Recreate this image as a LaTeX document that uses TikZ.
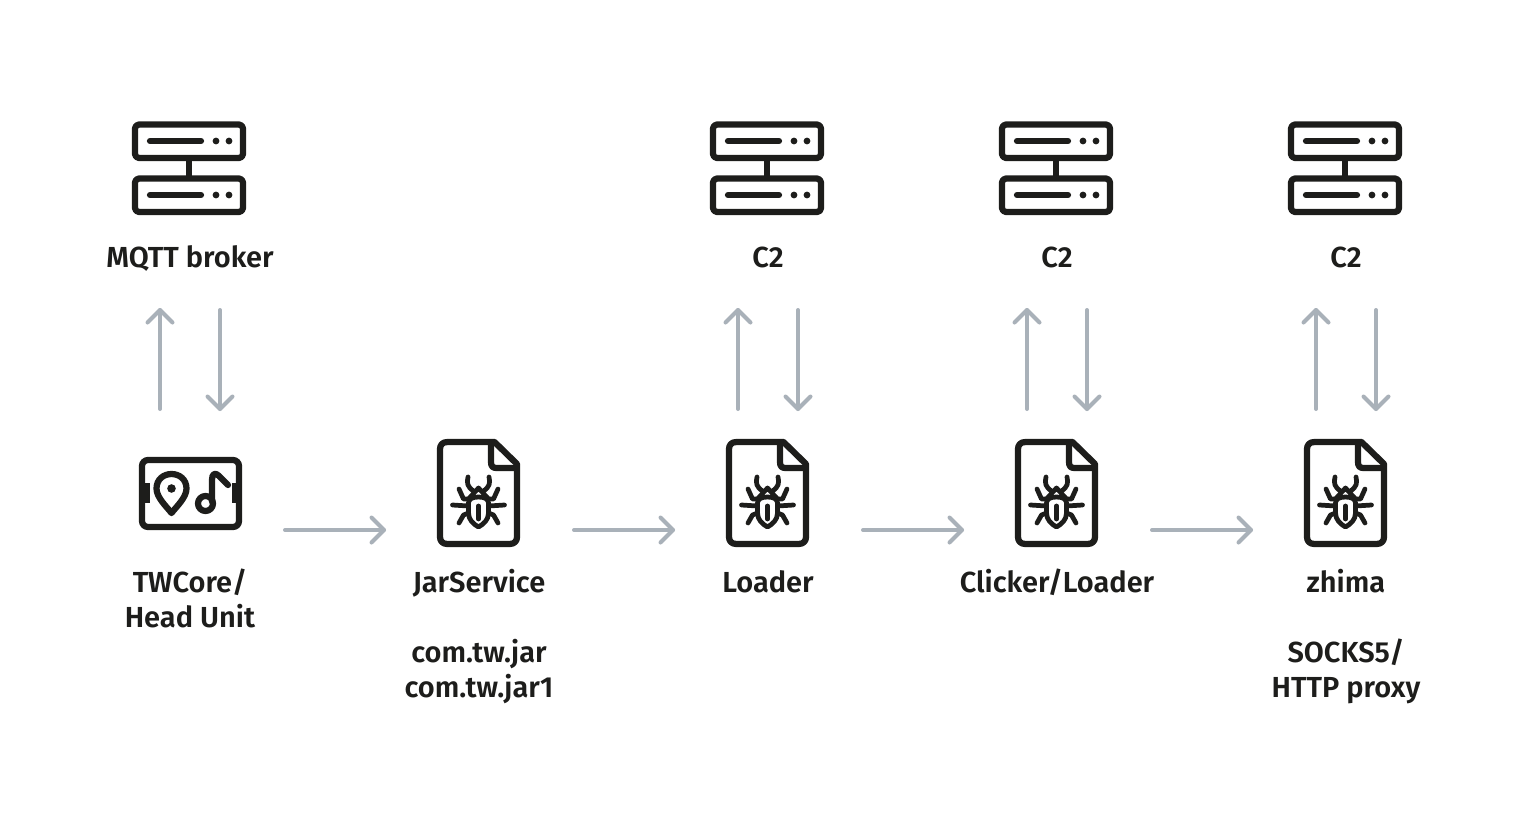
\documentclass[tikz,border=0pt]{standalone}
\usepackage{fontspec}
\setmainfont{Fira Sans}[UprightFont=* SemiBold]
\usetikzlibrary{calc}
\usetikzlibrary{positioning}

\definecolor{icondark}{HTML}{1D1D1B}
\definecolor{arrowgray}{HTML}{A9B1B9}

\tikzset{
    iconline/.style={draw=icondark, line width=0.125cm, line join=round},
    bugline/.style={draw=icondark, line width=0.095cm, line cap=round, line join=round},
    flowarrow/.style={draw=arrowgray, line width=0.08cm, line cap=round, line join=round},
    caption/.style={font=\fontsize{16.5}{19.9}\selectfont, text=icondark, align=center, inner sep=0pt,
        text height=14pt, text depth=2.6pt},
    pics/servericon/.style={code={
        \draw [iconline, rounded corners=0.08cm] (-54,-43.5) rectangle (54,-10);
        \draw [iconline, rounded corners=0.08cm] (-54,10.5) rectangle (54,44);
        \draw [iconline] (0,-10) -- (0,10.5);
        \foreach \yrow in {-27,27} {
            \draw [iconline, line cap=round] (-39,\yrow) -- (12,\yrow);
            \fill [icondark] (27,\yrow) circle [radius=3.4];
            \fill [icondark] (40,\yrow) circle [radius=3.4];
        }
    }},
    pics/fileicon/.style={code={
        \draw [iconline] (16,-51) -- (-31,-51) .. controls (-36,-51) and (-38.5,-48) .. (-38.5,-44)
            -- (-38.5,44) .. controls (-38.5,48) and (-36,51) .. (-31,51)
            -- (31,51) .. controls (36,51) and (38.5,48) .. (38.5,44)
            -- (38.5,-29) -- cycle;
        \draw [iconline] (12.5,-49) -- (12.5,-31) .. controls (12.5,-27) and (14,-25) .. (18,-25) -- (37,-25);
        % bug
        \draw [bugline] (0,4) .. controls (-6,4) and (-10,6) .. (-10,10)
            -- (-10,20) .. controls (-10,27) and (-5,31) .. (0,34)
            .. controls (5,31) and (10,27) .. (10,20)
            -- (10,10) .. controls (10,6) and (6,4) .. (0,4) -- cycle;
        \draw [bugline] (-10,6) -- (0,-5) -- (10,6);
        \draw [bugline] (0,13) -- (0,26);
        \draw [bugline] (-5,-2) .. controls (-11,-6) and (-12,-10) .. (-10.5,-16);
        \draw [bugline] (5,-2) .. controls (11,-6) and (12,-10) .. (10.5,-16);
        \draw [bugline] (-10,6) -- (-15,6) -- (-19.5,-4);
        \draw [bugline] (10,6) -- (15,6) -- (19.5,-4);
        \draw [bugline] (-10,13) -- (-26,12);
        \draw [bugline] (10,13) -- (26,12);
        \draw [bugline] (-10,20) -- (-15,22) -- (-19.5,30);
        \draw [bugline] (10,20) -- (15,22) -- (19.5,30);
    }},
    pics/headuniticon/.style={code={
        \draw [iconline, rounded corners=0.12cm] (-48.5,-33.5) rectangle (48.5,33.5);
        \fill [icondark] (-51.5,-10.5) rectangle (-41,9.5);
        \fill [icondark] (41.5,-10.5) rectangle (51.5,9.5);
        \draw [iconline] (-19,19.5) .. controls (-24,13) and (-34,4) .. (-34,-5)
            .. controls (-34,-14) and (-27,-19.5) .. (-19,-19.5)
            .. controls (-11,-19.5) and (-4,-14) .. (-4,-5)
            .. controls (-4,4) and (-14,13) .. (-19,19.5) -- cycle;
        \fill [icondark] (-19,-5) circle [radius=4.3];
        \draw [iconline] (15,10) circle [radius=7.5];
        \draw [iconline, line cap=round] (21.5,8) -- (21.5,-14) .. controls (21.5,-20) and (25,-21) .. (28,-18) -- (37.5,-8.5);
    }}
}

\begin{document}
\begin{tikzpicture}[x=0.02cm, y=-0.02cm]
    \useasboundingbox (0,0) rectangle (1536,829);

    % Constants
    \pgfmathsetmacro{\flowrow}{530}

    % Top row
    \pic at (189,168) {servericon};
    \pic at (767,168) {servericon};
    \pic at (1056,168) {servericon};
    \pic at (1345,168) {servericon};

    \node [caption] (brokertxt) at (190,257) {MQTT broker};
    \node [caption] (loadertop) at (768,257) {C2};
    \node [caption] (clickertop) at (1057,257) {C2};
    \node [caption] (zhimatop) at (1346,257) {C2};

    % Bottom row
    \pic at (190.5,493.5) {headuniticon};
    \pic at (478.5,493) {fileicon};
    \pic at (767.5,493) {fileicon};
    \pic at (1056.5,493) {fileicon};
    \pic at (1345.5,493) {fileicon};

    \node [caption] (headtxt) at (190,617) {TWCore/\\Head Unit};
    \node [caption] (jartxt) at (479,582) {JarService};
    \node [caption] (jarfiles) at (479,687) {com.tw.jar\\com.tw.jar1};
    \node [caption] (loadertxt) at (768,582) {Loader};
    \node [caption] (clickertxt) at (1057,582) {Clicker/Loader};
    \node [caption] (zhimatxt) at (1346,582) {zhima};
    \node [caption] (proxytxt) at (1346,687) {SOCKS5/\\HTTP proxy};

    % Vertical arrows
    \foreach \xpos/\name in {160/broker,738/loader,1027/clicker,1316/zhima} {
        \coordinate (\name up a) at (\xpos,409);
        \coordinate (\name up b) at (\xpos,310);
        \coordinate (\name down a) at (\xpos+60,310);
        \coordinate (\name down b) at (\xpos+60,409);
        \draw [flowarrow] (\name up a) -- (\name up b);
        \draw [flowarrow] ($(\name up b)+(-12.5,12.5)$) -- (\name up b) -- ($(\name up b)+(12.5,12.5)$);
        \draw [flowarrow] (\name down a) -- (\name down b);
        \draw [flowarrow] ($(\name down b)+(-12.5,-12.5)$) -- (\name down b) -- ($(\name down b)+(12.5,-12.5)$);
    }

    % Horizontal arrows
    \foreach \xpos/\name in {285/head,574/jar,863/load,1152/click} {
        \coordinate (\name a) at (\xpos,\flowrow);
        \coordinate (\name b) at (\xpos+99,\flowrow);
        \draw [flowarrow] (\name a) -- (\name b);
        \draw [flowarrow] ($(\name b)+(-12.5,-12.5)$) -- (\name b) -- ($(\name b)+(-12.5,12.5)$);
    }
\end{tikzpicture}
\end{document}
